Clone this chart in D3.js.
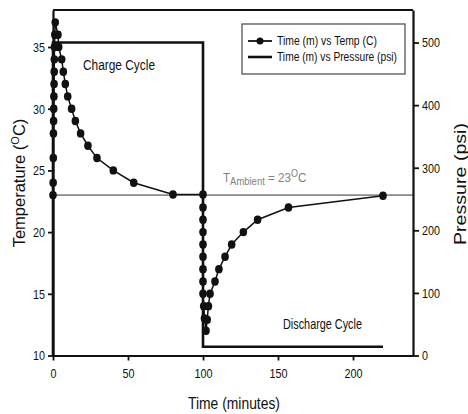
<!DOCTYPE html>
<html>
<head>
<meta charset="utf-8">
<script src="https://cdn.jsdelivr.net/npm/d3@7"></script>
<style>
  body { margin: 0; background: #fff; }
  svg { display: block; }
  text { font-family: "Liberation Sans", Arial, sans-serif; fill: #111; }
</style>
</head>
<body>
<svg width="468" height="414"></svg>
<script>
// temperature curve, in drawing order (charge rise, decay, discharge drop, recovery)
var tempTime = [0, 0.1, 0.2, 0.3, 0.4, 0.5, 0.6, 0.7, 0.8, 0.9, 1.0, 1.2, 1.5,
  3.3, 3.8, 5.8, 6.9, 8.2, 9.8, 12.4, 14.9, 18.4, 23.3, 29.3, 40.2, 53.8, 80,
  100, 100, 100, 100, 100, 100, 100, 100, 100, 100.5, 101, 102,
  102.8, 103.6, 104.7, 108, 110.6, 114.7, 119.1, 126.9, 136.4, 157, 220];
var tempValue = [23, 24, 26, 28, 29, 30, 31, 32, 33, 34, 35, 36, 37,
  36, 35, 34, 33, 32, 31, 30, 29, 28, 27, 26, 25, 24, 23.05,
  23.05, 22, 21, 20, 19, 18, 17, 16, 15, 14, 13, 12,
  12.9, 14, 15, 16, 17, 18, 19, 20, 21, 22, 22.95];

// pressure step line
var pressTime = [0, 0, 100, 100, 220];
var pressValue = [0, 500, 500, 14, 14];

var ambientTemp = 23;
var xTicks = [0, 50, 100, 150, 200];
var tempTicks = [10, 15, 20, 25, 30, 35];
var pressTicks = [0, 100, 200, 300, 400, 500];

var svg = d3.select('svg');
var padding = {t: 10, r: 55, b: 58.5, l: 53};
var chartWidth = 468 - padding.l - padding.r;
var chartHeight = 414 - padding.t - padding.b;

var chartG = svg.append('g')
    .attr('transform', 'translate(' + [padding.l, padding.t] + ')');

var xScale = d3.scaleLinear().domain([0, 240]).range([0, chartWidth]);
var tScale = d3.scaleLinear().domain([10, 38]).range([chartHeight, 0]);
var pScale = d3.scaleLinear().domain([0, 552]).range([chartHeight, 0]);

var tempData = tempTime.map(function(t, i) { return [t, tempValue[i]]; });
var pressData = pressTime.map(function(t, i) { return [t, pressValue[i]]; });

// squeeze text to look like the narrow font of the original
function narrow(sel, w) {
    sel.attr('textLength', w).attr('lengthAdjust', 'spacingAndGlyphs');
}

// ambient line
chartG.append('line')
    .attr('x1', 0).attr('x2', chartWidth)
    .attr('y1', tScale(ambientTemp)).attr('y2', tScale(ambientTemp))
    .attr('stroke', '#8a8a8a').attr('stroke-width', 1.6);

// pressure line
var pLine = d3.line()
    .x(function(d) { return xScale(d[0]); })
    .y(function(d) { return pScale(d[1]); });
chartG.append('path')
    .datum(pressData)
    .attr('d', pLine)
    .attr('fill', 'none')
    .attr('stroke', '#111')
    .attr('stroke-width', 2.6);

// temperature line + dots
var tLine = d3.line()
    .x(function(d) { return xScale(d[0]); })
    .y(function(d) { return tScale(d[1]); });
chartG.append('path')
    .datum(tempData)
    .attr('d', tLine)
    .attr('fill', 'none')
    .attr('stroke', '#111')
    .attr('stroke-width', 1.5);

chartG.append('g').selectAll('ellipse')
    .data(tempData)
    .enter()
    .append('ellipse')
    .attr('cx', function(d) { return xScale(d[0]); })
    .attr('cy', function(d) { return tScale(d[1]); })
    .attr('rx', 3.8)
    .attr('ry', 4.2)
    .attr('fill', '#111');

// axes
var xAxis = d3.axisBottom(xScale).tickValues(xTicks).tickSize(5).tickSizeOuter(0);
var tAxis = d3.axisLeft(tScale).tickValues(tempTicks).tickSize(5).tickSizeOuter(0);
var pAxis = d3.axisRight(pScale).tickValues(pressTicks).tickSize(6).tickSizeOuter(0);

function styleAxis(g) {
    g.attr('font-family', null);
    g.select('.domain').attr('stroke', '#111').attr('stroke-width', 2.2);
    g.selectAll('.tick line').attr('stroke', '#111').attr('stroke-width', 1.8);
    g.selectAll('.tick text').attr('font-size', 13.5).attr('fill', '#111')
      .each(function(d) { narrow(d3.select(this), String(d).length * 6); });
}

chartG.append('g')
    .attr('transform', 'translate(0,' + chartHeight + ')')
    .call(xAxis).call(styleAxis)
    .selectAll('.tick text').attr('dy', '1.1em');

chartG.append('g').call(tAxis).call(styleAxis);

chartG.append('g')
    .attr('transform', 'translate(' + chartWidth + ',0)')
    .call(pAxis).call(styleAxis);

// top border
chartG.append('line')
    .attr('x1', 0).attr('x2', chartWidth)
    .attr('y1', 0).attr('y2', 0)
    .attr('stroke', '#111').attr('stroke-width', 2.2);

// axis titles
svg.append('text')
    .attr('x', 234).attr('y', 409)
    .attr('text-anchor', 'middle')
    .attr('font-size', 16)
    .call(narrow, 92)
    .text('Time (minutes)');

var yt = svg.append('text')
    .attr('transform', 'translate(25,183) rotate(-90)')
    .attr('text-anchor', 'middle')
    .attr('font-size', 16.5);
yt.append('tspan').text('Temperature (');
yt.append('tspan').attr('font-size', 11).attr('dy', -6).text('O');
yt.append('tspan').attr('dy', 6).text('C)');

svg.append('text')
    .attr('transform', 'translate(466,184) rotate(-90)')
    .attr('text-anchor', 'middle')
    .attr('font-size', 16)
    .call(narrow, 122)
    .text('Pressure (psi)');

// annotations
svg.append('text')
    .attr('x', 83).attr('y', 70)
    .attr('font-size', 14)
    .call(narrow, 72)
    .text('Charge Cycle');

svg.append('text')
    .attr('x', 283).attr('y', 329)
    .attr('font-size', 14)
    .call(narrow, 79)
    .text('Discharge Cycle');

// ambient label, squeezed horizontally as one piece
var amb = svg.append('text')
    .attr('transform', 'translate(223,182) scale(0.86,1)')
    .attr('font-size', 13.5)
    .style('fill', '#808080');
amb.append('tspan').text('T');
amb.append('tspan').attr('font-size', 11).attr('dy', 3).text('Ambient');
amb.append('tspan').attr('dy', -3).text(' = 23');
amb.append('tspan').attr('font-size', 10.5).attr('dy', -5).text('O');
amb.append('tspan').attr('dy', 5).text('C');

// legend
var legend = svg.append('g');
legend.append('rect')
    .attr('x', 242).attr('y', 24)
    .attr('width', 163).attr('height', 50)
    .attr('fill', '#fff')
    .attr('stroke', '#555').attr('stroke-width', 1.3);

legend.append('line')
    .attr('x1', 248).attr('x2', 272).attr('y1', 41).attr('y2', 41)
    .attr('stroke', '#111').attr('stroke-width', 1.8);
legend.append('circle')
    .attr('cx', 260).attr('cy', 41).attr('r', 3.5).attr('fill', '#111');
legend.append('text')
    .attr('x', 277).attr('y', 45)
    .attr('font-size', 12)
    .call(narrow, 100)
    .text('Time (m) vs Temp (C)');

legend.append('line')
    .attr('x1', 248).attr('x2', 272).attr('y1', 57).attr('y2', 57)
    .attr('stroke', '#111').attr('stroke-width', 2.6);
legend.append('text')
    .attr('x', 277).attr('y', 61)
    .attr('font-size', 12)
    .call(narrow, 120)
    .text('Time (m) vs Pressure (psi)');
</script>
</body>
</html>
